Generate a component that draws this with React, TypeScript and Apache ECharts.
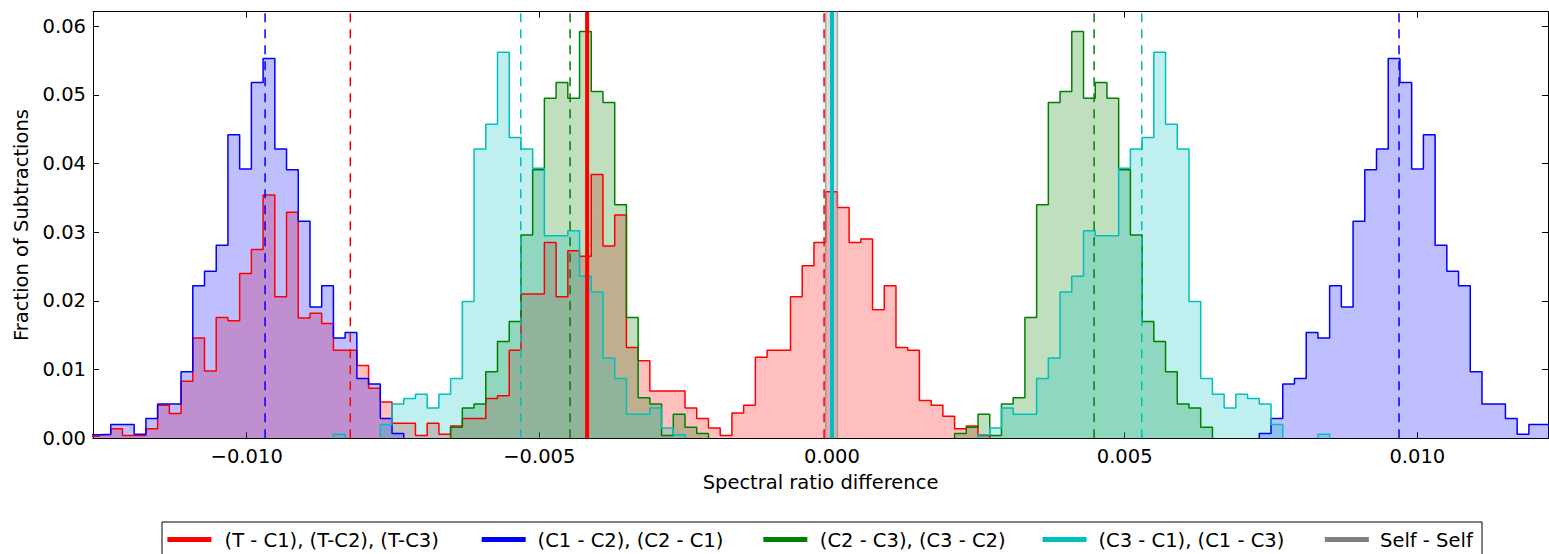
import React, { useEffect, useRef } from "react";
import * as echarts from "echarts";

// ---- axes ----
const X_MIN = -0.012626;
const X_MAX = 0.012233;
const Y_MIN = 0;
const Y_MAX = 0.0621;
const X_TICKS = [-0.01, -0.005, 0, 0.005, 0.01];
const Y_TICKS = [0, 0.01, 0.02, 0.03, 0.04, 0.05, 0.06];
const X_LABEL = "Spectral ratio difference";
const Y_LABEL = "Fraction of Subtractions";

// ---- common histogram bins: edge_k = BIN_EDGE0 + k * BIN_WIDTH ----
const BIN_EDGE0 = -0.0127234;
const BIN_WIDTH = 0.00020024;

// ---- (T - C1), (T-C2), (T-C3) ----
const RED_START = 0;
const RED = [
  0.0003, 0.0005, 0.0014, 0.0004, 0.0004, 0.0014, 0.0048, 0.0036, 0.0083, 0.0146,
  0.0098, 0.0176, 0.0171, 0.024, 0.0275, 0.0354, 0.0206, 0.0329, 0.0175, 0.0182,
  0.0167, 0.0128, 0.0128, 0.0106, 0.0073, 0.0053, 0.0022, 0.0022, 0.0004, 0.0022,
  0.0006, 0.0018, 0.0029, 0.0029, 0.0058, 0.0062, 0.0128, 0.021, 0.021, 0.0285,
  0.0206, 0.0273, 0.0265, 0.0384, 0.028, 0.0325, 0.0132, 0.0113, 0.0069, 0.0069,
  0.0069, 0.0044, 0.0029, 0.0015, 0.0004, 0.0037, 0.0048, 0.0118, 0.0128, 0.0128,
  0.0206, 0.0251, 0.0285, 0.0359, 0.0336, 0.0285, 0.029, 0.0187, 0.0222, 0.0132,
  0.0128, 0.0055, 0.0048, 0.0032, 0.0014, 0.0018, 0.0004,
];

// ---- (C1 - C2), (C2 - C1) ----
const BLUE_LEFT_START = 0;
const BLUE_LEFT = [
  0.0005, 0.0006, 0.002, 0.002, 0.0006, 0.0029, 0.005, 0.005, 0.0097, 0.0222,
  0.0243, 0.0281, 0.0442, 0.0392, 0.0518, 0.0553, 0.0421, 0.0391, 0.0316, 0.0191,
  0.0222, 0.0146, 0.0154, 0.0087, 0.0079, 0.0029, 0.0007,
];
const BLUE_RIGHT_START = 100;
const BLUE_RIGHT = [
  0.0007, 0.0029, 0.0079, 0.0087, 0.0154, 0.0146, 0.0222, 0.0191, 0.0316, 0.0391,
  0.0421, 0.0553, 0.0518, 0.0392, 0.0442, 0.0281, 0.0243, 0.0222, 0.0097, 0.005,
  0.005, 0.0029, 0.0006, 0.002, 0.002, 0.0006,
];

// ---- (C2 - C3), (C3 - C2) ----
const GREEN_LEFT_START = 31;
const GREEN_LEFT = [
  0.0016, 0.0044, 0.005, 0.0097, 0.0141, 0.017, 0.0296, 0.0391, 0.0495, 0.0518,
  0.0495, 0.0592, 0.0505, 0.0489, 0.034, 0.0176, 0.0059, 0.005, 0.0004, 0.0035,
  0.0016, 0.0007,
];
const GREEN_RIGHT_START = 74;
const GREEN_RIGHT = [
  0.0007, 0.0016, 0.0035, 0.0004, 0.005, 0.0059, 0.0176, 0.034, 0.0489, 0.0505,
  0.0592, 0.0495, 0.0518, 0.0495, 0.0391, 0.0296, 0.017, 0.0141, 0.0097, 0.005,
  0.0044, 0.0016,
];

// ---- (C3 - C1), (C1 - C3) ----
const CYAN_FAR_LEFT_START = 21;
const CYAN_FAR_LEFT = [0.0006];
const CYAN_LEFT_START = 25;
const CYAN_LEFT = [
  0.002, 0.005, 0.0058, 0.0064, 0.0044, 0.0064, 0.0087, 0.0199, 0.0421, 0.0457,
  0.0562, 0.0438, 0.0421, 0.0393, 0.0295, 0.0295, 0.0302, 0.0236, 0.0213, 0.0117,
  0.0087, 0.0035, 0.0035, 0.0044, 0.0015, 0.0005,
];
const CYAN_RIGHT_START = 76;
const CYAN_RIGHT = [
  0.0005, 0.0015, 0.0044, 0.0035, 0.0035, 0.0087, 0.0117, 0.0213, 0.0236, 0.0302,
  0.0295, 0.0295, 0.0393, 0.0421, 0.0438, 0.0562, 0.0457, 0.0421, 0.0199, 0.0087,
  0.0064, 0.0044, 0.0064, 0.0058, 0.005, 0.002,
];
const CYAN_FAR_RIGHT_START = 105;
const CYAN_FAR_RIGHT = [0.0006];

// ---- Self - Self ----
const SELF_START = 63;
const SELF = [1.0];

// ---- vertical reference lines ----
const RED_DASHED = [-0.00823, -0.000135];
const RED_SOLID = [-0.004184];
const BLUE_DASHED = [-0.009686, 0.009688];
const GREEN_DASHED = [-0.004475, 0.004478];
const CYAN_DASHED = [-0.005317, 0.005292];
const CYAN_SOLID = [0.0];

// ---- legend ----
const LEGEND_NAMES = [
  "(T - C1), (T-C2), (T-C3)",
  "(C1 - C2), (C2 - C1)",
  "(C2 - C3), (C3 - C2)",
  "(C3 - C1), (C1 - C3)",
  "Self - Self",
];

const RED_C = "#ff0000";
const BLUE_C = "#0000ff";
const GREEN_C = "#008000";
const CYAN_C = "#00bfbf";
const GRAY_C = "#808080";
const LEGEND_COLORS = [RED_C, BLUE_C, GREEN_C, CYAN_C, GRAY_C];
const LEGEND_ICON_X = [167.4, 481.7, 763.3, 1042.5, 1324.9];
const LEGEND_TEXT_X = [224.6, 537.6, 819.8, 1098.5, 1380];

const FONT = "'DejaVu Sans', sans-serif";
const FS = 19.5;

const edge = (k: number) => BIN_EDGE0 + k * BIN_WIDTH;

function stepPoints(start: number, values: number[]) {
  const pts: number[][] = [[edge(start), 0]];
  values.forEach((v, i) => pts.push([edge(start + i), v]));
  pts.push([edge(start + values.length), 0]);
  return pts;
}

function hist(name: string, color: string, start: number, values: number[], lineColor?: string, lineOpacity = 1) {
  return {
    name,
    type: "line",
    step: "end",
    data: stepPoints(start, values),
    symbol: "none",
    showSymbol: false,
    clip: true,
    silent: true,
    color,
    itemStyle: { color },
    lineStyle: { color: lineColor || color, width: 1.5, opacity: lineOpacity },
    areaStyle: { color, opacity: 0.25 },
    emphasis: { disabled: true },
    z: 2,
  };
}

function vline(name: string, v: number, color: string, dashed: boolean) {
  return {
    name,
    type: "line",
    data: [
      [v, Y_MIN],
      [v, Y_MAX],
    ],
    symbol: "none",
    showSymbol: false,
    silent: true,
    clip: true,
    color,
    lineStyle: { color, width: dashed ? 1.5 : 4, type: dashed ? [9, 7] : "solid" },
    emphasis: { disabled: true },
    z: dashed ? 4 : 5,
  };
}

function fmtX(v: number) {
  const s = Math.abs(v).toFixed(3);
  return v < -1e-12 ? "\u2212" + s : s;
}

export default function App() {
  const ref = useRef<HTMLDivElement>(null);
  useEffect(() => {
    if (!ref.current) return;
    const chart = echarts.init(ref.current, undefined, { renderer: "svg" });

    const lines = [
      ...RED_DASHED.map((v) => vline(LEGEND_NAMES[0], v, RED_C, true)),
      ...BLUE_DASHED.map((v) => vline(LEGEND_NAMES[1], v, BLUE_C, true)),
      ...GREEN_DASHED.map((v) => vline(LEGEND_NAMES[2], v, GREEN_C, true)),
      ...CYAN_DASHED.map((v) => vline(LEGEND_NAMES[3], v, CYAN_C, true)),
      ...RED_SOLID.map((v) => vline(LEGEND_NAMES[0], v, RED_C, false)),
      ...CYAN_SOLID.map((v) => vline(LEGEND_NAMES[3], v, CYAN_C, false)),
    ];

    const axisLine = { show: true, onZero: false, lineStyle: { color: "#000", width: 1 } };
    const labelStyle = { fontSize: FS, fontFamily: FONT, color: "#000" };

    const legendGraphics: any[] = [
      {
        type: "rect",
        shape: { x: 162, y: 522, width: 1320, height: 50 },
        style: { fill: "#fff", stroke: "#000", lineWidth: 1 },
        z: 100,
      },
    ];
    LEGEND_NAMES.forEach((name, i) => {
      legendGraphics.push({
        type: "rect",
        shape: { x: LEGEND_ICON_X[i], y: 537, width: 44, height: 5 },
        style: { fill: LEGEND_COLORS[i] },
        z: 101,
      });
      legendGraphics.push({
        type: "text",
        x: LEGEND_TEXT_X[i],
        y: 540,
        style: {
          text: name,
          fontSize: FS,
          fontFamily: FONT,
          fill: "#000",
          verticalAlign: "middle",
          align: "left",
        },
        z: 101,
      });
    });

    chart.setOption({
      animation: false,
      backgroundColor: "#fff",
      grid: { left: 93, top: 11.7, width: 1455, height: 426.6, containLabel: false },
      xAxis: [
        {
          type: "value",
          min: X_MIN,
          max: X_MAX,
          position: "bottom",
          axisLine,
          axisTick: { show: true, inside: true, length: 6, customValues: X_TICKS, lineStyle: { color: "#000" } },
          axisLabel: { show: true, customValues: X_TICKS, formatter: fmtX, margin: 8, ...labelStyle },
          splitLine: { show: false },
          axisPointer: { show: false },
          name: X_LABEL,
          nameLocation: "middle",
          nameGap: 34,
          nameTextStyle: labelStyle,
        },
        {
          type: "value",
          min: X_MIN,
          max: X_MAX,
          position: "top",
          axisLine,
          axisTick: { show: true, inside: true, length: 6, customValues: X_TICKS, lineStyle: { color: "#000" } },
          axisLabel: { show: false },
          splitLine: { show: false },
          axisPointer: { show: false },
        },
      ],
      yAxis: [
        {
          type: "value",
          min: Y_MIN,
          max: Y_MAX,
          position: "left",
          axisLine,
          axisTick: { show: true, inside: true, length: 6, customValues: Y_TICKS, lineStyle: { color: "#000" } },
          axisLabel: { show: true, customValues: Y_TICKS, formatter: (v: number) => v.toFixed(2), margin: 7, ...labelStyle },
          splitLine: { show: false },
          axisPointer: { show: false },
          name: Y_LABEL,
          nameLocation: "middle",
          nameRotate: 90,
          nameGap: 61,
          nameTextStyle: labelStyle,
        },
        {
          type: "value",
          min: Y_MIN,
          max: Y_MAX,
          position: "right",
          axisLine,
          axisTick: { show: true, inside: true, length: 6, customValues: Y_TICKS, lineStyle: { color: "#000" } },
          axisLabel: { show: false },
          splitLine: { show: false },
          axisPointer: { show: false },
        },
      ],
      series: [
        hist(LEGEND_NAMES[0], RED_C, RED_START, RED),
        hist(LEGEND_NAMES[1], BLUE_C, BLUE_LEFT_START, BLUE_LEFT),
        hist(LEGEND_NAMES[1], BLUE_C, BLUE_RIGHT_START, BLUE_RIGHT),
        hist(LEGEND_NAMES[2], GREEN_C, GREEN_LEFT_START, GREEN_LEFT),
        hist(LEGEND_NAMES[2], GREEN_C, GREEN_RIGHT_START, GREEN_RIGHT),
        hist(LEGEND_NAMES[3], CYAN_C, CYAN_FAR_LEFT_START, CYAN_FAR_LEFT),
        hist(LEGEND_NAMES[3], CYAN_C, CYAN_LEFT_START, CYAN_LEFT),
        hist(LEGEND_NAMES[3], CYAN_C, CYAN_RIGHT_START, CYAN_RIGHT),
        hist(LEGEND_NAMES[3], CYAN_C, CYAN_FAR_RIGHT_START, CYAN_FAR_RIGHT),
        hist(LEGEND_NAMES[4], GRAY_C, SELF_START, SELF, "#8a8a96", 0.7),
        ...lines,
      ],
      graphic: { elements: legendGraphics },
    });
    return () => chart.dispose();
  }, []);
  return (
    <div
      ref={ref}
      style={{ position: "absolute", left: 0, top: 0, width: 1549, height: 554 }}
    />
  );
}
